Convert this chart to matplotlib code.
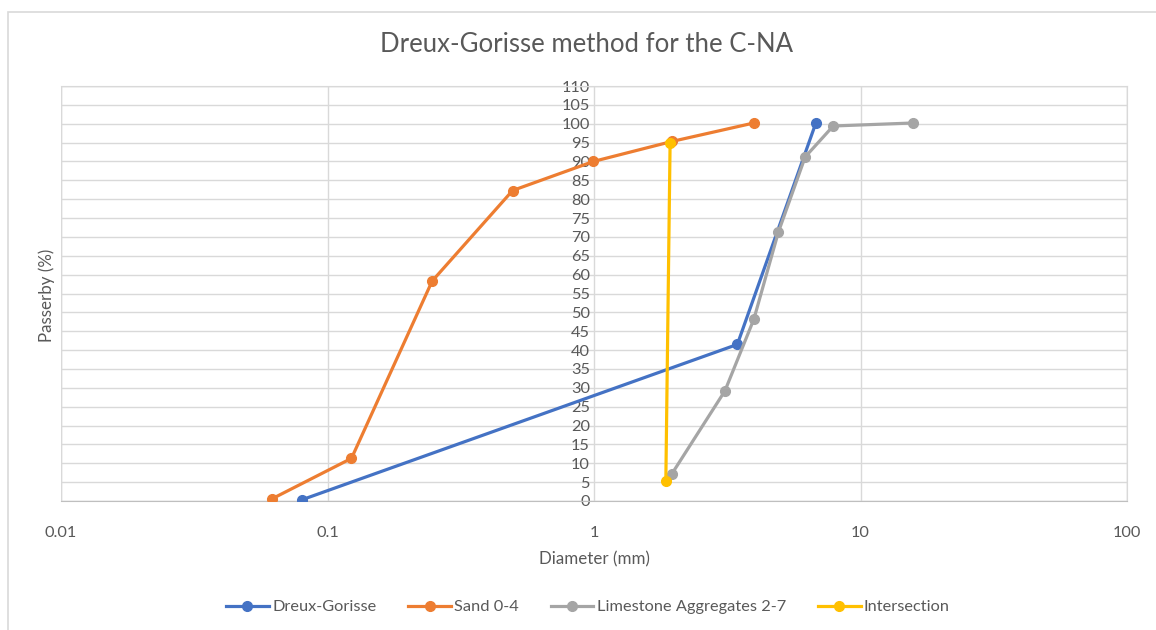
import numpy as np
import matplotlib.pyplot as plt
from matplotlib.patches import Rectangle
from matplotlib.ticker import FixedLocator, FixedFormatter, NullLocator

plt.rcParams['font.family'] = ['Lato', 'DejaVu Sans']

# data
dg_x = [0.08, 3.45, 6.8]
dg_y = [0.3, 41.5, 100.2]
sand_x = [0.062, 0.123, 0.247, 0.495, 0.995, 1.96, 3.98]
sand_y = [0.6, 11.3, 58.3, 82.3, 90.0, 95.3, 100.2]
lime_x = [1.96, 3.1, 3.98, 4.92, 6.2, 7.9, 15.8]
lime_y = [7.2, 29.2, 48.2, 71.3, 91.2, 99.4, 100.2]
inter_x = [1.86, 1.93]
inter_y = [5.2, 95.0]

series = [
    ("Dreux-Gorisse", dg_x, dg_y, "#4472C4"),
    ("Sand 0-4", sand_x, sand_y, "#ED7D31"),
    ("Limestone Aggregates 2-7", lime_x, lime_y, "#A5A5A5"),
    ("Intersection", inter_x, inter_y, "#FFC000"),
]

x_ticks = [0.01, 0.1, 1, 10, 100]
x_labels = ["0.01", "0.1", "1", "10", "100"]
y_ticks = list(range(0, 111, 5))

W, H = 1156, 630
fig = plt.figure(figsize=(W / 100, H / 100), dpi=100)
ax = fig.add_axes([61 / W, 1 - 501 / H, (1127 - 61) / W, (501 - 86) / H])

grid_c = "#D9D9D9"
txt_c = "#595959"

# chart outer border
fig.patches.append(Rectangle((8 / W, -0.05), 1.1, 1 - 12 / H + 0.05,
                             transform=fig.transFigure, fill=False,
                             edgecolor=grid_c, lw=1.2))

handles = []
for i, (name, xs, ys, col) in enumerate(series):
    h, = ax.plot(xs, ys, color=col, lw=2.3, marker='o', ms=7,
                 label=name, zorder=3 + i)
    handles.append(h)

ax.set_xscale('log')
ax.set_xlim(0.01, 100)
ax.set_ylim(0, 110)
ax.xaxis.set_major_locator(FixedLocator(x_ticks))
ax.xaxis.set_major_formatter(FixedFormatter(x_labels))
ax.xaxis.set_minor_locator(NullLocator())
ax.set_yticks(y_ticks)

ax.grid(True, color=grid_c, lw=1.0, zorder=0)
ax.set_axisbelow(True)

for s in ['top', 'right']:
    ax.spines[s].set_color(grid_c)
ax.spines['left'].set_position(('data', 1))
ax.spines['left'].set_color('none')
ax.spines['bottom'].set_color('#BFBFBF')
ax.add_patch(Rectangle((0, 0), 1, 1, transform=ax.transAxes, fill=False,
                       edgecolor=grid_c, lw=1.0, zorder=1))

ax.tick_params(axis='both', length=0, labelsize=11.8, labelcolor=txt_c)
ax.tick_params(axis='x', pad=18)
ax.tick_params(axis='y', pad=3)

ax.set_xlabel("Diameter (mm)", fontsize=12.2, color=txt_c, labelpad=8)
fig.text(47 / W, 1 - 295 / H, "Passerby (%)", rotation=90, fontsize=12.2,
         color=txt_c, ha='center', va='center')

fig.text(586 / W, 1 - 44 / H, "Dreux-Gorisse method for the C-NA",
         fontsize=18.5, color=txt_c, ha='center', va='center')

fig.legend(handles=handles, loc='center', bbox_to_anchor=(588 / W, 1 - 607 / H),
           ncol=4, frameon=False, fontsize=11.8, labelcolor=txt_c,
           handlelength=2.6, handletextpad=0.2, columnspacing=1.95)

fig.savefig("out.png", dpi=100, facecolor='white')
